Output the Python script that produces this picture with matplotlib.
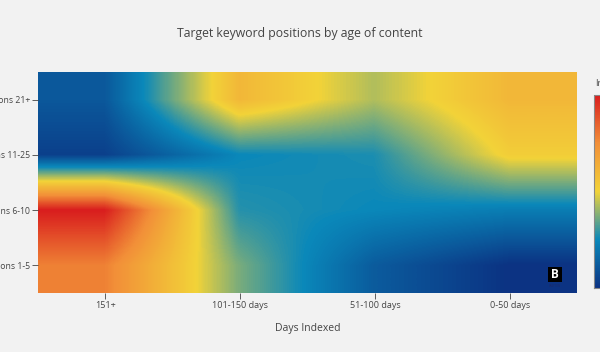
import numpy as np
import matplotlib
matplotlib.use('Agg')
import matplotlib.pyplot as plt
from matplotlib.colors import LinearSegmentedColormap
from matplotlib.patches import Rectangle

# data (scaled 0..1 on the colour bar)
dias = ['151+', '101-150 days', '51-100 days', '0-50 days']
posiciones = ['Positions 21+', 'Positions 11-25', 'Positions 6-10', 'Positions 1-5']
fila_21 = [0.11, 0.60, 0.43, 0.60]
fila_11 = [0.04, 0.25, 0.27, 0.52]
fila_6 = [1.00, 0.28, 0.25, 0.22]
fila_1 = [0.78, 0.37, 0.12, 0.00]

z = np.array([fila_21, fila_11, fila_6, fila_1])

portland = LinearSegmentedColormap.from_list('portland', [
    (0.0, (12/255, 51/255, 131/255)),
    (0.25, (10/255, 136/255, 186/255)),
    (0.5, (242/255, 211/255, 56/255)),
    (0.75, (242/255, 143/255, 56/255)),
    (1.0, (217/255, 30/255, 30/255)),
])

plt.rcParams['font.family'] = ['Open Sans', 'DejaVu Sans']
gris = '#444444'
fondo = '#f2f2f2'

fig = plt.figure(figsize=(6, 3.52), dpi=100, facecolor=fondo)
ax = fig.add_axes([38/600, 59/352, 539/600, 221/352])
ax.set_facecolor(fondo)

im = ax.imshow(z, cmap=portland, vmin=0, vmax=1, aspect='auto',
               interpolation='bilinear', extent=(-0.5, 3.5, 3.5, -0.5))

ax.set_xticks(range(len(dias)))
ax.set_xticklabels(dias)
ax.set_yticks(range(len(posiciones)))
ax.set_yticklabels(posiciones)
ax.tick_params(colors=gris, labelsize=6.5, length=4, width=0.6, pad=2)
ax.tick_params(axis='y', labelsize=6.2, length=4, pad=1.5)
for s in ax.spines.values():
    s.set_visible(False)

ax.set_xlabel('Days Indexed', fontsize=7.5, color=gris, labelpad=9)
fig.text(0.5, 0.906, 'Target keyword positions by age of content',
         ha='center', va='center', fontsize=8.8, color=gris)

# colour bar (cut by the right edge)
cax = fig.add_axes([594/600, 64/352, 0.05, 193/352])
cb = fig.colorbar(im, cax=cax)
cb.outline.set_edgecolor('#888888')
cb.outline.set_linewidth(0.8)
cax.tick_params(length=0, labelsize=6.5, colors=gris)
fig.text(595/600, 1 - 84/352, 'Index', ha='left', va='center',
         fontsize=6.5, color=gris)

# logo
fig.patches.append(Rectangle((548/600, 70/352), 14/600, 15/352,
                             transform=fig.transFigure, facecolor='black',
                             edgecolor='none'))
fig.text(555/600, 77.5/352, 'B', ha='center', va='center', color='white',
         fontsize=8.5, fontweight='bold')
fig.text(555/600, 66/352, 'BRAFTON', ha='center', va='center',
         color='#1a2a6a', fontsize=2)

fig.savefig('out.png', dpi=100, facecolor=fondo)
